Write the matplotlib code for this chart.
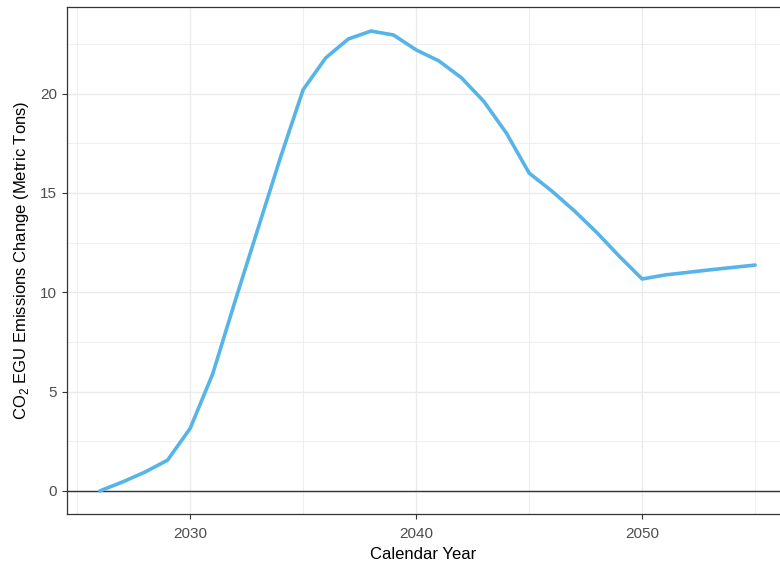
import matplotlib
matplotlib.use("Agg")
import matplotlib.pyplot as plt
import numpy as np

plt.rcParams['font.family'] = ['Liberation Sans', 'DejaVu Sans']
plt.rcParams['mathtext.fontset'] = 'custom'
plt.rcParams['mathtext.rm'] = 'Liberation Sans'

# CO2 EGU emissions change by calendar year
years = [2026, 2027, 2028, 2029, 2030, 2031, 2032, 2033, 2034, 2035,
         2036, 2037, 2038, 2039, 2040, 2041, 2042, 2043, 2044, 2045,
         2046, 2047, 2048, 2049, 2050, 2051, 2052, 2053, 2054, 2055]
co2_change = [0.0, 0.45, 0.95, 1.55, 3.15, 5.9, 9.6, 13.2, 16.8, 20.2,
              21.8, 22.75, 23.15, 22.95, 22.2, 21.65, 20.8, 19.6, 18.0, 16.0,
              15.1, 14.1, 13.0, 11.8, 10.67, 10.87, 11.0, 11.13, 11.25, 11.37]

major_y = [0, 5, 10, 15, 20]
major_x = [2030, 2040, 2050]

fig = plt.figure(figsize=(7.8, 5.67), dpi=100)
ax = fig.add_axes([67 / 780, 53 / 567, 713 / 780, 507 / 567])

# light ggplot-style grid
for y in np.arange(0, 25, 2.5):
    ax.axhline(y, color='#ebebeb', lw=0.6 if y % 5 else 1.0, zorder=0)
for x in [2025, 2030, 2035, 2040, 2045, 2050, 2055]:
    ax.axvline(x, color='#ebebeb', lw=0.6 if x % 10 else 1.0, zorder=0)

ax.axhline(0, color='#333333', lw=1.0, zorder=1)
ax.plot(years, co2_change, color='#56B4E9', lw=2.6, solid_capstyle='round',
        zorder=2)

ax.set_xlim(2024.55, 2056.1)
ax.set_ylim(-1.16, 24.36)
ax.set_xticks(major_x)
ax.set_yticks(major_y)
ax.tick_params(colors='#333333', labelsize=11, length=3.5, width=0.8,
               labelcolor='#4d4d4d')
ax.tick_params(axis='x', pad=6)

for side in ['left', 'bottom', 'top']:
    ax.spines[side].set_color('#333333')
    ax.spines[side].set_linewidth(0.9)
ax.spines['right'].set_visible(False)

ax.set_xlabel('Calendar Year', fontsize=12, labelpad=4)
ax.set_ylabel('CO$_2$ EGU Emissions Change (Metric Tons)', fontsize=12,
              labelpad=7)

fig.savefig('out.png', dpi=100)
